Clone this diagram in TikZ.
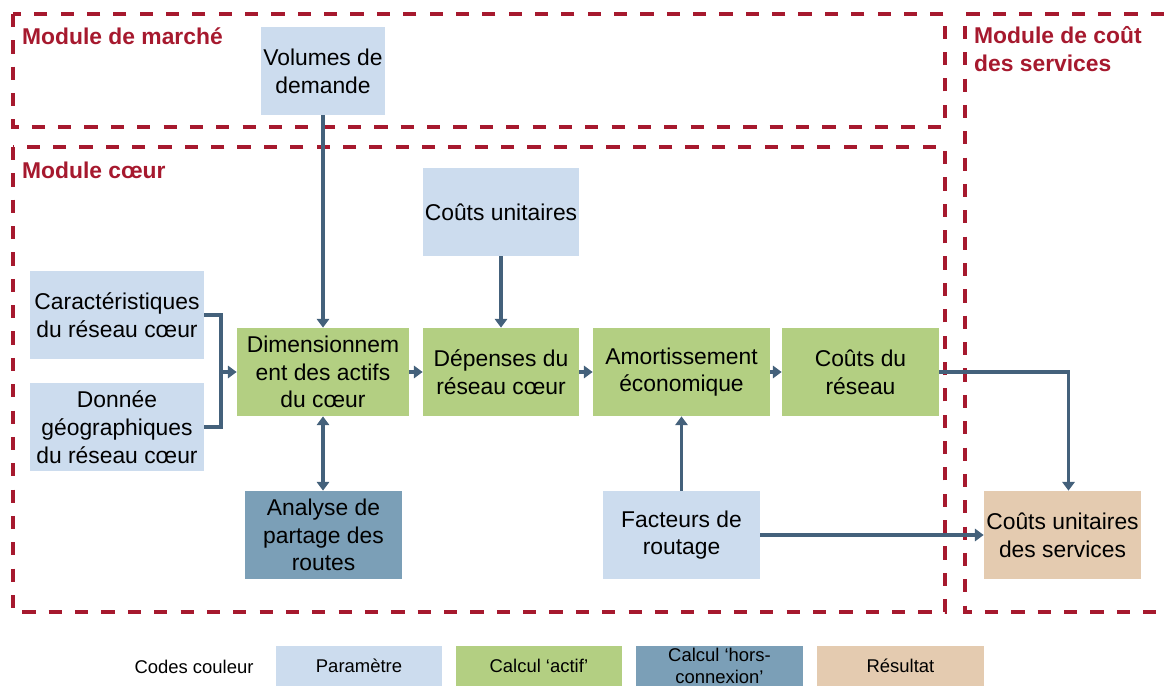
\documentclass[tikz,border=0pt]{standalone}
\usepackage{fontspec}
\setmainfont{Liberation Sans}
\usepackage{tikz}
\usetikzlibrary{arrows.meta}

\definecolor{modred}{HTML}{A6192E}
\definecolor{linkc}{HTML}{44617B}
\definecolor{paramc}{HTML}{CCDCEE}
\definecolor{actifc}{HTML}{B3CF82}
\definecolor{horsc}{HTML}{7B9FB7}
\definecolor{resc}{HTML}{E4CBB0}

\tikzset{
  box/.style={inner sep=0pt, align=center, minimum height=1.76cm,
    font=\fontsize{13}{15.8}\selectfont},
  param/.style={box, fill=paramc},
  actif/.style={box, fill=actifc},
  hors/.style={box, fill=horsc},
  result/.style={box, fill=resc},
  module/.style={draw=modred, line width=2.3pt, dash pattern=on 7.5pt off 7.5pt},
  modlabel/.style={anchor=west, align=left, text=modred,
    font=\fontsize{13}{15.5}\selectfont\bfseries},
  link/.style={draw=linkc, line width=2.1pt},
  arr/.style={link, -{Triangle[width=7pt,length=5pt]}},
  legbox/.style={inner sep=0pt, align=center, minimum width=3.34cm, minimum height=0.8cm,
    font=\fontsize{10.5}{12.5}\selectfont}
}

\begin{document}
\begin{tikzpicture}[x=0.02cm, y=-0.02cm]
    \useasboundingbox (0,0) rectangle (1164,686);

    % Module frames
    \draw[module] (13,14) rectangle (945,127);
    \draw[module] (13,147) rectangle (945,612);
    \draw[module] (1164,14) -- (965,14) -- (965,612) -- (1164,612);

    % Module labels
    \node[modlabel] (lblmarche) at (16,36) {Module de marché};
    \node[modlabel] (lblcoeur) at (16,170) {Module cœur};
    \node[modlabel] (lblservices) at (968,49) {Module de coût\\des services};

    % Parameters
    \node[param, minimum width=2.48cm] (volumes) at (323,71) {Volumes de\\demande};
    \node[param, minimum width=3.12cm] (cunit) at (501,212) {Coûts unitaires};
    \node[param, minimum width=3.48cm] (carac) at (117,315) {Caractéristiques\\du réseau cœur};
    \node[param, minimum width=3.48cm] (donnee) at (117,427) {Donnée\\géographiques\\du réseau cœur};
    \node[param, minimum width=3.14cm] (facteurs) at (681.5,535) {Facteurs de\\routage};

    % Active calculations
    \node[actif, minimum width=3.44cm] (dim) at (323,372) {Dimensionnem\\ent des actifs\\du cœur};
    \node[actif, minimum width=3.12cm] (depenses) at (501,372) {Dépenses du\\réseau cœur};
    \node[actif, minimum width=3.54cm] (amort) at (681.5,372) {Amortissement\\économique};
    \node[actif, minimum width=3.14cm] (reseau) at (860.5,372) {Coûts du\\réseau};

    % Offline calculation and result
    \node[hors, minimum width=3.14cm] (analyse) at (323.5,535) {Analyse de\\partage des\\routes};
    \node[result, minimum width=3.14cm] (services) at (1062.5,535) {Coûts unitaires\\des services};

    % Connectors
    \coordinate (brk) at (221,372);
    \draw[link] (carac.east) -| (brk) |- (donnee.east);
    \draw[arr] (brk) -- (dim.west);
    \draw[arr] (volumes.south -| dim.north) -- (dim.north);
    \draw[arr] (cunit) -- (depenses);
    \draw[link, {Triangle[width=7pt,length=5pt]}-{Triangle[width=7pt,length=5pt]}] (dim.south) -- (analyse.north -| dim.south);
    \draw[arr] (dim) -- (depenses);
    \draw[arr] (depenses) -- (amort);
    \draw[arr] (amort) -- (reseau);
    \draw[arr] (facteurs) -- (amort);
    \draw[arr] (reseau.east) -| ([xshift=0.12cm]services.north);
    \draw[arr] (facteurs) -- (services);

    % Legend
    \node[font=\fontsize{10.5}{12.5}\selectfont] (legtitle) at (194,667) {Codes couleur};
    \node[legbox, fill=paramc] (legparam) at (359,666) {Paramètre};
    \node[legbox, fill=actifc] (legactif) at (539,666) {Calcul ‘actif’};
    \node[legbox, fill=horsc] (leghors) at (719.5,666) {Calcul ‘hors-\\connexion’};
    \node[legbox, fill=resc] (legres) at (900.5,666) {Résultat};
\end{tikzpicture}
\end{document}
